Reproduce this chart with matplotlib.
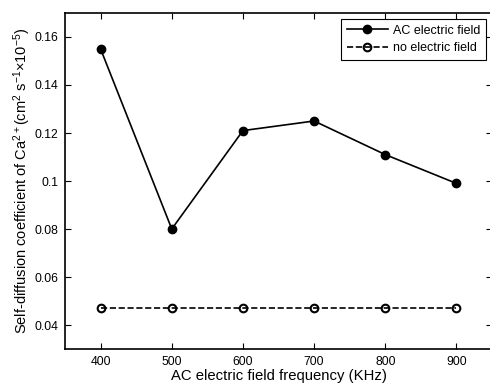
import matplotlib
matplotlib.use("Agg")
import matplotlib.pyplot as plt

plt.rcParams['font.family'] = ['Liberation Sans', 'DejaVu Sans']
plt.rcParams['mathtext.fontset'] = 'custom'
plt.rcParams['mathtext.rm'] = 'Liberation Sans'
plt.rcParams['mathtext.it'] = 'Liberation Sans'

# data
freq = [400, 500, 600, 700, 800, 900]
ac_field = [0.155, 0.080, 0.121, 0.125, 0.111, 0.099]
no_field = [0.047, 0.047, 0.047, 0.047, 0.047, 0.047]
yticks = [0.04, 0.06, 0.08, 0.1, 0.12, 0.14, 0.16]
ytick_labels = ['0.04', '0.06', '0.08', '0.1', '0.12', '0.14', '0.16']

fig = plt.figure(figsize=(4.9, 3.88), dpi=100)
ax = fig.add_axes([0.1327, 0.1005, 0.8714, 0.866])

ax.plot(freq, ac_field, '-o', color='black', lw=1.2, ms=6,
        markerfacecolor='black', label='AC electric field')
ax.plot(freq, no_field, '--o', color='black', lw=1.2, ms=5.5,
        markerfacecolor='none', markeredgewidth=1.5, label='no electric field')

ax.set_xlim(350, 950)
ax.set_ylim(0.03, 0.17)
ax.set_xticks(freq)
ax.set_yticks(yticks)
ax.set_yticklabels(ytick_labels)
ax.tick_params(direction='in', length=4, width=0.8, top=True, right=True,
               labelsize=8.8, pad=5)
for s in ax.spines.values():
    s.set_linewidth(1.2)

ax.set_xlabel('AC electric field frequency (KHz)', fontsize=10.7, labelpad=1)
ax.set_ylabel(r'Self-diffusion coefficient of Ca$^{2+}$(cm$^2$ s$^{-1}$$\times$10$^{-5}$)',
              fontsize=10.5, labelpad=1)

leg = ax.legend(loc='upper right', fontsize=9, frameon=True, fancybox=False,
                framealpha=1, edgecolor='black', borderpad=0.45,
                handlelength=3.3, handletextpad=0.4, labelspacing=0.45,
                borderaxespad=0, bbox_to_anchor=(0.986, 0.982))
leg.get_frame().set_linewidth(0.8)

fig.savefig('out.png', dpi=100)
